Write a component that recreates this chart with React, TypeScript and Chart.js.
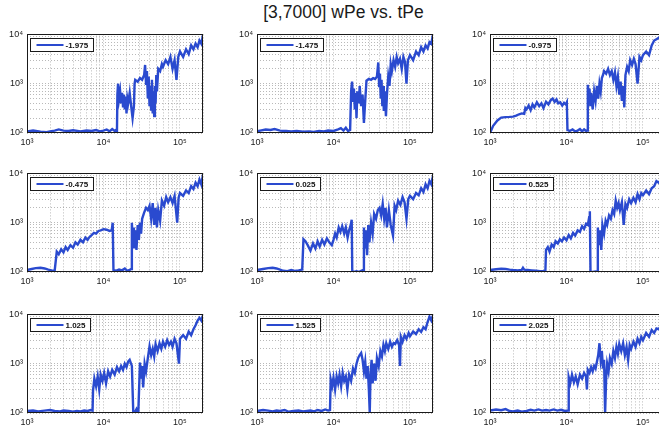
import { useEffect, useRef } from "react";
import { Chart, registerables } from "chart.js";

Chart.register(...registerables);

// ---- data: wPe against tPe for each run, as [tPe, wPe] pairs ----
const runLabels = ["-1.975", "-1.475", "-0.975", "-0.475", "0.025", "0.525", "1.025", "1.525", "2.025"];

const runM1975: [number, number][] = [
  [1000, 108], [1200, 112], [1500, 106], [1800, 104], [2000, 108], [2300, 112], [2600, 118], [3000, 112],
  [3500, 110], [4000, 114], [5000, 108], [6000, 112], [7000, 110], [8000, 115], [9000, 108], [10000, 112],
  [11000, 118], [12000, 108], [13000, 120], [14000, 110], [14500, 115], [15000, 105], [15200, 600], [15500, 1000],
  [16000, 500], [16500, 700], [17000, 400], [17500, 650], [18000, 350], [18500, 600], [19000, 300], [19500, 550],
  [20000, 250], [20500, 500], [21000, 400], [22000, 650], [23000, 350], [24000, 200], [25000, 350], [25500, 1000],
  [26000, 1200], [28000, 1100], [30000, 1300], [32000, 1200], [34000, 1500], [35000, 2400], [36000, 1000],
  [37000, 1800], [38000, 500], [39000, 1400], [40000, 350], [41000, 900], [42000, 300], [43000, 1200],
  [44000, 250], [45000, 700], [46000, 220], [47000, 900], [48000, 400], [49000, 1500], [50000, 700],
  [52000, 2000], [55000, 1800], [58000, 2500], [60000, 2200], [65000, 3000], [70000, 2500], [75000, 3500],
  [80000, 2000], [85000, 3000], [90000, 1200], [95000, 3500], [100000, 4500], [110000, 3500], [120000, 5000],
  [130000, 4000], [140000, 6000], [150000, 5000], [160000, 6500], [170000, 5500], [180000, 7500],
  [190000, 6500], [200000, 9800], [210000, 10000],
];

const runM1475: [number, number][] = [
  [1000, 108], [1100, 112], [1300, 118], [1500, 115], [1700, 120], [2000, 112], [2400, 110], [2800, 108],
  [3300, 110], [4000, 106], [4800, 108], [5500, 105], [6500, 110], [7500, 108], [8500, 112], [10000, 110],
  [11500, 118], [12500, 125], [13500, 112], [14500, 128], [15500, 110], [16500, 115], [17000, 700],
  [17500, 1100], [18000, 450], [18500, 800], [19000, 300], [19500, 650], [20000, 200], [20500, 700],
  [21500, 400], [22000, 900], [23000, 350], [24000, 600], [25000, 160], [26000, 450], [27000, 1150],
  [29000, 1250], [31000, 1200], [33000, 1300], [35000, 1250], [37000, 1400], [38500, 2700], [39500, 900],
  [40500, 1600], [41500, 500], [42500, 1200], [43500, 350], [44500, 900], [45500, 280], [47000, 700],
  [48500, 220], [50000, 600], [52000, 1400], [54000, 900], [56000, 2500], [58000, 1800], [61000, 3000],
  [64000, 2200], [67000, 3500], [70000, 2600], [74000, 3200], [78000, 2000], [82000, 3500], [86000, 2800],
  [90000, 1000], [94000, 3000], [100000, 3800], [110000, 3000], [120000, 4500], [130000, 3800],
  [140000, 5500], [150000, 4500], [160000, 6000], [170000, 5200], [180000, 7000], [190000, 6500],
  [200000, 10000],
];

const runM0975: [number, number][] = [
  [1000, 100], [1100, 140], [1250, 180], [1400, 205], [1600, 210], [1800, 212], [2000, 215], [2200, 225],
  [2400, 240], [2600, 250], [2800, 245], [2900, 320], [3000, 300], [3200, 360], [3400, 290], [3600, 380],
  [3800, 330], [4100, 420], [4400, 350], [4700, 400], [5000, 320], [5400, 430], [5800, 380], [6200, 460],
  [6600, 500], [7000, 430], [7400, 480], [7800, 400], [8300, 420], [8800, 360], [9300, 410], [9800, 380],
  [10100, 420], [10300, 115], [11000, 110], [12000, 118], [13000, 108], [14000, 112], [15000, 120],
  [16000, 108], [17000, 118], [18000, 110], [18700, 112], [19000, 950], [19500, 600], [20000, 800],
  [20500, 350], [21000, 650], [22000, 300], [23000, 700], [24000, 450], [25000, 900], [26000, 500],
  [27000, 1000], [28000, 700], [29000, 1300], [30000, 1500], [31000, 1800], [33000, 1600], [35000, 2000],
  [37000, 1500], [39000, 1800], [41000, 1200], [43000, 1700], [45000, 900], [47000, 1400], [49000, 600],
  [51000, 1100], [53000, 450], [55000, 900], [57000, 330], [59000, 1500], [62000, 2200], [65000, 1800],
  [68000, 3000], [72000, 2400], [76000, 3200], [80000, 2500], [85000, 1000], [90000, 3500], [95000, 3000],
  [100000, 3800], [110000, 4500], [120000, 3800], [130000, 6000], [140000, 7500], [150000, 8000],
  [170000, 9000], [200000, 10000],
];

const runM0475: [number, number][] = [
  [1000, 110], [1150, 115], [1300, 120], [1500, 122], [1700, 118], [1900, 112], [2100, 108], [2300, 106],
  [2450, 260], [2600, 230], [2800, 290], [3000, 250], [3200, 320], [3400, 280], [3700, 350], [4000, 310],
  [4300, 400], [4600, 360], [5000, 450], [5400, 400], [5800, 500], [6200, 450], [6600, 520], [7000, 560],
  [7500, 620], [8000, 600], [8600, 680], [9200, 700], [10000, 740], [11000, 720], [12000, 680],
  [12800, 700], [13200, 1000], [13500, 110], [14500, 105], [16000, 112], [17500, 108], [19000, 118],
  [20500, 105], [22000, 110], [23000, 115], [23500, 1000], [24000, 500], [24500, 800], [25000, 300],
  [26000, 700], [27000, 280], [28000, 900], [29000, 450], [30000, 1000], [31000, 600], [32000, 1200],
  [34000, 1600], [36000, 2000], [38000, 1800], [40000, 2200], [42000, 1200], [44000, 2500], [46000, 900],
  [48000, 2000], [50000, 800], [52000, 1800], [55000, 1100], [58000, 2800], [62000, 2200], [66000, 3300],
  [70000, 2600], [75000, 3300], [80000, 2500], [85000, 3500], [92000, 1000], [96000, 3200],
  [100000, 4000], [110000, 3500], [120000, 4500], [130000, 4000], [140000, 5500], [150000, 4800],
  [160000, 6500], [170000, 5500], [180000, 7500], [190000, 6000], [200000, 9500],
];

const runP0025: [number, number][] = [
  [1000, 110], [1200, 115], [1400, 120], [1600, 122], [1800, 118], [2000, 112], [2200, 106], [2500, 104],
  [2800, 110], [3100, 105], [3500, 108], [3900, 112], [4050, 460], [4300, 420], [4600, 350], [5000, 270],
  [5400, 380], [5800, 300], [6200, 420], [6600, 330], [7100, 450], [7600, 360], [8200, 480], [8800, 400],
  [9500, 350], [10000, 450], [10500, 600], [11000, 500], [11700, 800], [12300, 650], [13000, 850],
  [13800, 600], [14500, 800], [15300, 500], [16000, 700], [16800, 900], [17300, 1150], [17600, 105],
  [18500, 100], [20000, 104], [21500, 100], [23000, 106], [24500, 110], [25000, 800], [25500, 300],
  [26500, 700], [27500, 220], [28500, 900], [29500, 400], [31000, 1000], [32500, 600], [34000, 1500],
  [36000, 1200], [38000, 1800], [40000, 2000], [42000, 1400], [44000, 2400], [46000, 1200], [48000, 2000],
  [50000, 800], [53000, 1800], [56000, 900], [60000, 550], [63000, 2200], [66000, 1800], [70000, 2800],
  [75000, 2300], [80000, 3300], [85000, 2600], [90000, 1200], [95000, 3000], [100000, 3500],
  [110000, 3000], [120000, 4000], [130000, 3600], [140000, 5000], [150000, 4200], [160000, 6000],
  [170000, 5000], [180000, 7000], [190000, 6000], [200000, 9000],
];

const runP0525: [number, number][] = [
  [1000, 110], [1200, 114], [1400, 116], [1600, 115], [1800, 112], [2000, 110], [2300, 108], [2600, 110],
  [2700, 122], [2800, 112], [3100, 110], [3500, 108], [4000, 106], [4500, 104], [5000, 105], [5300, 106],
  [5400, 280], [5700, 320], [6000, 260], [6400, 360], [6800, 320], [7200, 420], [7700, 380], [8200, 460],
  [8700, 420], [9300, 500], [10000, 440], [10700, 560], [11400, 480], [12200, 620], [13000, 550],
  [14000, 700], [15000, 650], [16000, 850], [17000, 750], [18000, 950], [19000, 900], [19800, 1300],
  [20200, 1700], [20600, 100], [22000, 100], [24000, 102], [25300, 100], [25700, 800], [26500, 350],
  [27500, 700], [28500, 280], [29500, 900], [31000, 600], [32500, 1100], [34000, 900], [36000, 1400],
  [38000, 1200], [40000, 1800], [42000, 1500], [44000, 2800], [46000, 2000], [48000, 2500], [50000, 1800],
  [53000, 2600], [56000, 900], [59000, 2400], [62000, 2000], [66000, 3000], [70000, 2500], [75000, 3200],
  [80000, 2600], [85000, 3800], [90000, 3000], [95000, 4000], [100000, 3600], [110000, 4500],
  [120000, 3800], [130000, 5000], [140000, 5500], [150000, 7000], [160000, 6500], [180000, 8000],
  [200000, 10000],
];

const runP1025: [number, number][] = [
  [1000, 110], [1200, 112], [1400, 108], [1700, 112], [2000, 115], [2300, 110], [2700, 108], [3000, 112],
  [3500, 110], [4000, 106], [4500, 110], [5000, 108], [5600, 112], [6200, 110], [6800, 115], [7200, 112],
  [7300, 285], [7600, 500], [8000, 350], [8400, 550], [8800, 300], [9200, 600], [9700, 450], [10200, 650],
  [10800, 400], [11500, 700], [12200, 550], [13000, 750], [14000, 600], [15000, 850], [16000, 700],
  [17000, 900], [18000, 750], [19000, 1000], [20000, 850], [21000, 1100], [22000, 1200], [23500, 900],
  [24500, 105], [25500, 100], [27000, 120], [28500, 100], [30000, 1050], [31000, 500], [32000, 900],
  [33000, 330], [34500, 1000], [36000, 700], [38000, 1300], [40000, 2250], [42000, 1500], [44000, 2000],
  [46000, 1400], [48000, 2500], [51000, 1800], [54000, 2600], [57000, 2000], [60000, 2800], [64000, 2200],
  [68000, 3000], [72000, 2400], [76000, 2800], [80000, 2200], [85000, 3200], [90000, 2600], [97000, 1000],
  [100000, 3200], [110000, 3800], [120000, 3200], [130000, 4500], [140000, 3800], [150000, 5000],
  [160000, 6000], [170000, 7500], [180000, 8500], [190000, 7500], [200000, 9500],
];

const runP1525: [number, number][] = [
  [1000, 110], [1200, 115], [1400, 112], [1600, 108], [1800, 112], [2000, 110], [2300, 115], [2600, 106],
  [3000, 110], [3500, 112], [4000, 108], [4500, 110], [5000, 112], [5600, 108], [6200, 115], [7000, 110],
  [7800, 118], [8500, 112], [9000, 115], [9200, 480], [9600, 350], [10000, 520], [10500, 300],
  [11000, 550], [11500, 400], [12000, 600], [12600, 350], [13200, 650], [13800, 450], [14500, 550],
  [15200, 300], [16000, 600], [17000, 450], [18000, 800], [19000, 650], [20000, 1000], [21000, 1300],
  [22000, 1500], [23000, 1650], [24000, 1200], [25000, 700], [26000, 1100], [27000, 500], [28000, 900],
  [29000, 300], [29800, 100], [30500, 600], [31500, 1200], [32500, 400], [34000, 1000], [35500, 450],
  [37000, 1300], [39000, 900], [41000, 1800], [43000, 1400], [45000, 2400], [47000, 1800], [49000, 2600],
  [52000, 2000], [55000, 2800], [58000, 2200], [61000, 2600], [64000, 2500], [68000, 3000], [72000, 2400],
  [74000, 900], [76000, 3500], [80000, 2800], [85000, 3800], [90000, 3200], [96000, 4200], [100000, 3600],
  [110000, 4500], [120000, 4000], [130000, 5000], [140000, 4400], [150000, 5500], [160000, 5000],
  [170000, 7000], [180000, 9000], [190000, 7500], [200000, 9500],
];

const runP2025: [number, number][] = [
  [1000, 112], [1200, 118], [1400, 114], [1600, 120], [1800, 110], [2000, 108], [2300, 112], [2600, 106],
  [3000, 110], [3400, 116], [3800, 112], [4300, 118], [4800, 112], [5400, 115], [6000, 112], [6800, 118],
  [7600, 112], [8500, 116], [9500, 110], [10500, 112], [10700, 530], [11200, 400], [11800, 600],
  [12500, 420], [13200, 550], [14000, 380], [15000, 600], [16000, 500], [17000, 650], [18000, 550],
  [18500, 300], [19000, 750], [20000, 650], [21000, 850], [22000, 700], [23000, 900], [24000, 800],
  [25000, 1100], [26000, 1500], [27000, 2600], [28000, 1200], [29000, 1800], [30000, 800], [31000, 1200],
  [32000, 100], [33000, 500], [34000, 1000], [35500, 700], [37000, 1300], [39000, 1000], [41000, 1800],
  [43000, 1300], [45000, 2200], [47000, 1600], [49000, 2500], [52000, 1800], [55000, 2600], [58000, 1500],
  [61000, 2200], [64000, 1200], [67000, 2400], [70000, 2000], [75000, 2800], [80000, 2200], [85000, 3200],
  [90000, 2600], [95000, 3500], [100000, 3000], [110000, 4200], [120000, 3500], [130000, 4800],
  [140000, 4200], [150000, 5200], [160000, 5000], [180000, 6500], [200000, 8000],
];

const runData = [runM1975, runM1475, runM0975, runM0475, runP0025, runP0525, runP1025, runP1525, runP2025];

// axis ranges and grid ticks (decades plus the 2..9 minor steps)
const xRange = [1000, 200000];
const yRange = [100, 10000];
const xTickValues = [
  1000, 2000, 3000, 4000, 5000, 6000, 7000, 8000, 9000,
  10000, 20000, 30000, 40000, 50000, 60000, 70000, 80000, 90000,
  100000, 200000,
];
const yTickValues = [
  100, 200, 300, 400, 500, 600, 700, 800, 900,
  1000, 2000, 3000, 4000, 5000, 6000, 7000, 8000, 9000,
  10000,
];

const titleText = "[3,7000] wPe vs. tPe";

// ---- layout ----
const COL_LEFT = [27, 257, 490];
const ROW_TOP = [33, 172, 313];
const PLOT_W = 176;
const PLOT_H = 100;
const Y_AXIS_W = 30;
const X_AXIS_H = 20;
const PAD_T = 8;
const PAD_R = 6;
const LINE_COLOR = "#2a4acf";

const SUP: Record<string, string> = {
  "0": "\u2070", "1": "\u00b9", "2": "\u00b2", "3": "\u00b3", "4": "\u2074",
  "5": "\u2075", "6": "\u2076", "7": "\u2077", "8": "\u2078", "9": "\u2079",
};

function decadeLabel(v: number): string {
  const e = Math.log10(v);
  if (Math.abs(e - Math.round(e)) > 1e-9) return "";
  return "10" + String(Math.round(e)).split("").map((c) => SUP[c]).join("");
}

// black box around the axes plus a boxed legend in the upper-left corner
const axesDecor = {
  id: "axesDecor",
  afterDatasetsDraw(chart: any) {
    const { ctx, chartArea: a } = chart;
    ctx.save();
    ctx.strokeStyle = "#1a1a1a";
    ctx.lineWidth = 1;
    ctx.setLineDash([]);
    ctx.strokeRect(Math.round(a.left) + 0.5, Math.round(a.top) + 0.5, Math.round(a.width) - 1, Math.round(a.height) - 1);

    const label = chart.data.datasets[0].label as string;
    ctx.font = "bold 8px Arial, 'Liberation Sans', sans-serif";
    const tw = ctx.measureText(label).width;
    const bx = Math.round(a.left) + 3.5;
    const by = Math.round(a.top) + 4.5;
    const bw = Math.round(7 + 27 + 2 + tw + 4);
    const bh = 13;
    ctx.fillStyle = "#ffffff";
    ctx.fillRect(bx, by, bw, bh);
    ctx.strokeStyle = "#1a1a1a";
    ctx.strokeRect(bx, by, bw, bh);
    ctx.strokeStyle = LINE_COLOR;
    ctx.lineWidth = 2;
    ctx.beginPath();
    ctx.moveTo(bx + 6, by + bh / 2);
    ctx.lineTo(bx + 33, by + bh / 2);
    ctx.stroke();
    ctx.fillStyle = "#111";
    ctx.textBaseline = "middle";
    ctx.textAlign = "left";
    ctx.fillText(label, bx + 35, by + bh / 2 + 0.5);
    ctx.restore();
  },
};

function Panel({ label, points, left, top }: { label: string; points: [number, number][]; left: number; top: number }) {
  const ref = useRef<HTMLCanvasElement | null>(null);
  const w = PLOT_W + Y_AXIS_W + PAD_R;
  const h = PLOT_H + PAD_T + X_AXIS_H;

  useEffect(() => {
    if (!ref.current) return;
    const tickFont = { family: "Arial, 'Liberation Sans', sans-serif", size: 9 };
    const gridOpts = { color: "rgba(70,70,70,0.38)", lineWidth: 1, drawTicks: false };
    const chart = new Chart(ref.current, {
      type: "line",
      data: {
        datasets: [
          {
            label,
            data: points.map(([x, y]) => ({ x, y })),
            borderColor: LINE_COLOR,
            borderWidth: 2.4,
            pointRadius: 0,
            tension: 0,
            fill: false,
          },
        ],
      },
      options: {
        responsive: false,
        animation: false,
        events: [],
        layout: { padding: { top: PAD_T, right: PAD_R, left: 0, bottom: 0 } },
        plugins: { legend: { display: false }, tooltip: { enabled: false }, title: { display: false } },
        scales: {
          x: {
            type: "logarithmic",
            min: xRange[0],
            max: xRange[1],
            afterBuildTicks: (s: any) => {
              s.ticks = xTickValues.map((value) => ({ value }));
            },
            afterFit: (s: any) => {
              s.height = X_AXIS_H;
            },
            ticks: {
              autoSkip: false,
              maxRotation: 0,
              minRotation: 0,
              padding: 4,
              color: "#1a1a1a",
              font: tickFont,
              callback: (v: any) => decadeLabel(Number(v)),
            },
            grid: gridOpts,
            border: { display: false, dash: [1, 2] },
          },
          y: {
            type: "logarithmic",
            min: yRange[0],
            max: yRange[1],
            afterBuildTicks: (s: any) => {
              s.ticks = yTickValues.map((value) => ({ value }));
            },
            afterFit: (s: any) => {
              s.width = Y_AXIS_W;
            },
            ticks: {
              autoSkip: false,
              padding: 4,
              color: "#1a1a1a",
              font: tickFont,
              callback: (v: any) => decadeLabel(Number(v)),
            },
            grid: gridOpts,
            border: { display: false, dash: [1, 2] },
          },
        },
      } as any,
      plugins: [axesDecor],
    });
    return () => chart.destroy();
  }, [label, points]);

  return (
    <canvas
      ref={ref}
      width={w}
      height={h}
      style={{ position: "absolute", left: left - Y_AXIS_W, top: top - PAD_T, width: w, height: h }}
    />
  );
}

export default function App() {
  return (
    <div
      style={{
        position: "fixed",
        left: 0,
        top: 0,
        width: 659,
        height: 431,
        overflow: "hidden",
        background: "#ffffff",
      }}
    >
      <div
        style={{
          position: "absolute",
          left: 343.5 - 150,
          top: 2,
          width: 300,
          textAlign: "center",
          fontFamily: "Arial, 'Liberation Sans', sans-serif",
          fontSize: 17.5,
          lineHeight: "20px",
          color: "#1a1a1a",
        }}
      >
        {titleText}
      </div>
      {runData.map((pts, i) => (
        <Panel
          key={runLabels[i]}
          label={runLabels[i]}
          points={pts}
          left={COL_LEFT[i % 3]}
          top={ROW_TOP[Math.floor(i / 3)]}
        />
      ))}
    </div>
  );
}
